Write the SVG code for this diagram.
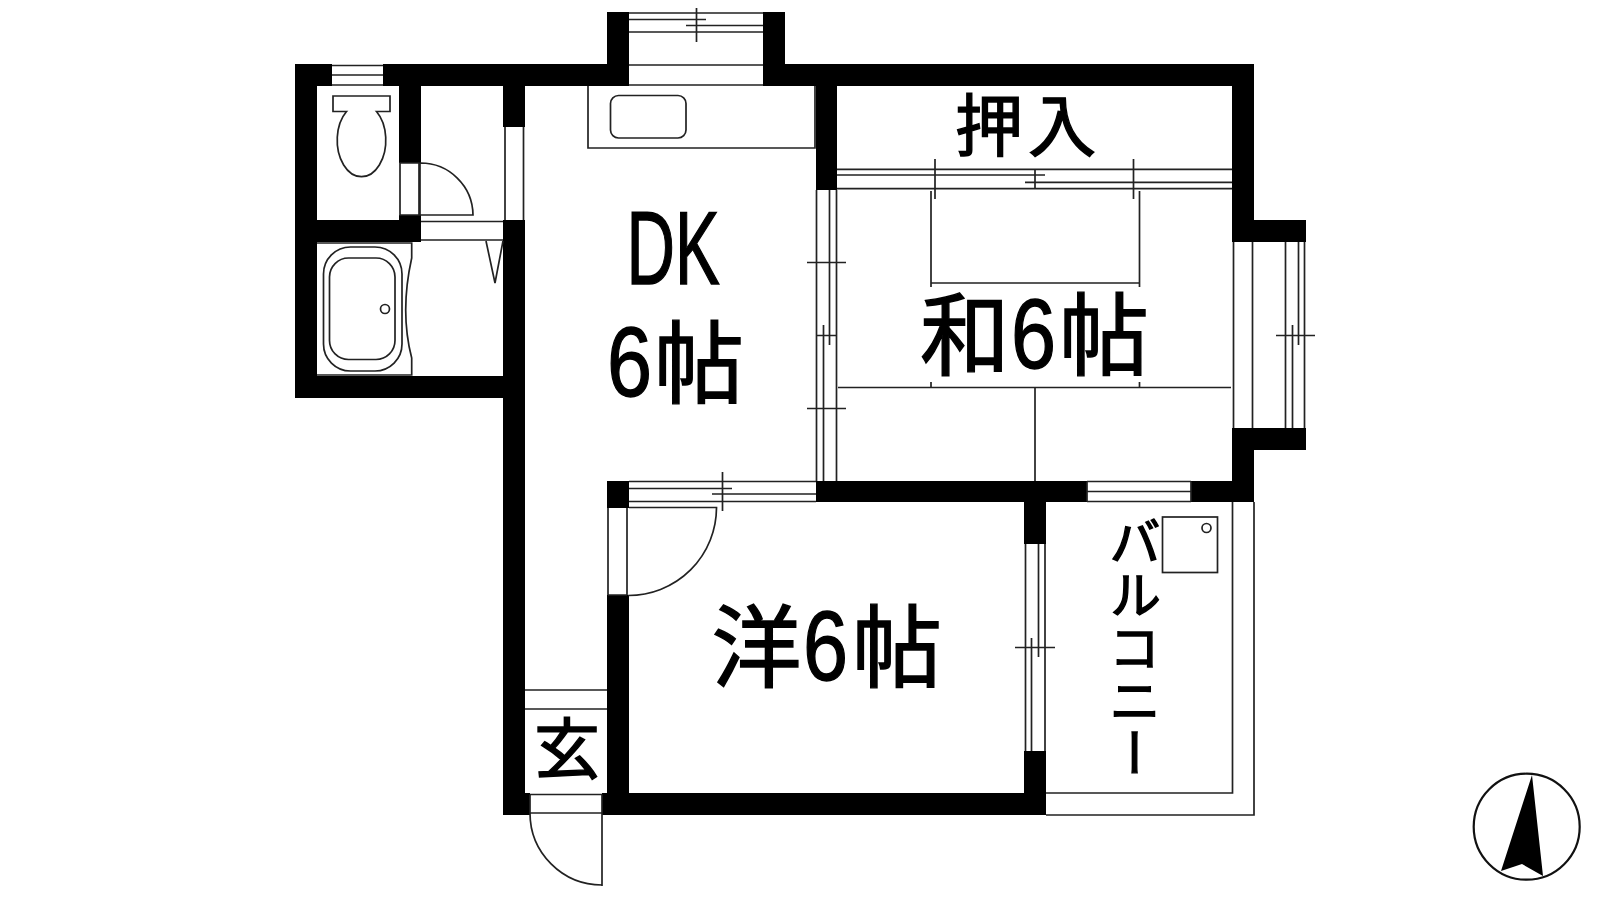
<svg xmlns="http://www.w3.org/2000/svg" width="1600" height="900" viewBox="0 0 1600 900">
<style>
.w{fill:#000}
.l{fill:none;stroke:#222;stroke-width:1.7}
.t{fill:#000;stroke:#000;stroke-width:1.4;font-family:"Noto Sans CJK JP","Liberation Sans",sans-serif}
.n{font-family:"Liberation Sans","Noto Sans CJK JP",sans-serif}
</style>
<rect width="1600" height="900" fill="#fff"/>
<g id="walls" class="w">
<rect x="295" y="64" width="37" height="22"/>
<rect x="383" y="64" width="224" height="22"/>
<rect x="607" y="12" width="22" height="74"/>
<rect x="763" y="12" width="22" height="74"/>
<rect x="785" y="64" width="469" height="22"/>
<rect x="295" y="64" width="22" height="334"/>
<rect x="399" y="86" width="22" height="77"/>
<rect x="295" y="220" width="126" height="22"/>
<rect x="399" y="215" width="22" height="7"/>
<rect x="503" y="86" width="22" height="41"/>
<rect x="503" y="220" width="22" height="595"/>
<rect x="295" y="376" width="208" height="22"/>
<rect x="816" y="86" width="21" height="104"/>
<rect x="1232" y="64" width="22" height="178"/>
<rect x="1232" y="220" width="74" height="22"/>
<rect x="1232" y="428" width="74" height="22"/>
<rect x="1232" y="428" width="22" height="74"/>
<rect x="816" y="481" width="271" height="21"/>
<rect x="1191" y="481" width="63" height="21"/>
<rect x="607" y="481" width="22" height="27"/>
<rect x="607" y="595" width="22" height="220"/>
<rect x="503" y="793" width="27" height="22"/>
<rect x="602" y="793" width="444" height="22"/>
<rect x="1024" y="502" width="22" height="42"/>
<rect x="1024" y="751" width="22" height="64"/>
</g>
<g id="windows" class="l">
<path d="M332 65.500H383M332 75H383M332 85H383"/>
<path d="M629 13H763M629 19.500H706M686 25.500H763M629 32H763M696.500 8V42M629 65H763M629 85H763"/>
<path d="M505 127V220M523.500 127V220"/>
<path d="M837 169.300H1232M837 175H1045M1025 182.300H1232M837 188.700H1232M935 159V199M1133.500 159V199M1035 170V188.700"/>
<path d="M816.500 190V481M836.500 190V481M829.500 190V345M823.500 325V481M817 335.500H836.500M807 262.500H846M807 408.500H846"/>
<path d="M1233.500 242V428M1252.500 242V428M1285.500 242V428M1304.500 242V428M1298.500 242V345M1292.500 325V428M1276 335.500H1315"/>
<path d="M1087 481.500H1191M1087 491.500H1191M1087 501.500H1191M1087 481.500V501.500M1191 481.500V501.500"/>
<path d="M629 481.500H816M629 488.500H732M712 494H816M629 501.500H816M722.500 472V511"/>
<path d="M1025.500 544V751M1045 544V751M1038.500 544V657M1031.500 638V751M1015 647.500H1055"/>
</g>
<g id="doors" class="l">
<path d="M400 163H419V215H400ZM420 163A52.500 52.500 0 0 1 473 215H420V163"/>
<path d="M421 221.500H503M421 240H503"/>
<path d="M486 241L495 283L503 241"/>
<path d="M608 508V595M627 508V595M608 595H627M629 507.500H716.500A88 88 0 0 1 628 595.500"/>
<path d="M525 690H607M525 709H607"/>
<path d="M530 794.500H602M530 813H602M530 794.500V813M602 794.500V886M530 813A72 72 0 0 0 602 885"/>
</g>
<g id="fixtures" class="l">
<path d="M333 96H390V111.500H376.500A24.300 36.500 0 1 1 346.500 111.500H333Z"/>
<path d="M317 243H411.700V258Q405.700 285 405.700 310Q405.700 335 411.700 358V375H317"/>
<rect x="323.500" y="247" width="78.500" height="124" rx="27"/>
<rect x="329.500" y="258" width="65.500" height="101.500" rx="19"/>
<circle cx="385" cy="309" r="4.500"/>
<path d="M588 86V148H815V86"/>
<rect x="610.500" y="95.500" width="75.500" height="42.500" rx="8"/>
<path d="M931 191V287M1139.500 191V287M931 283H1139.500M838 387.500H1231M931 382V387.500M1139.500 382V387.500M1035 387.500V481"/>
<path d="M1046 793H1232.500V502M1254 502V815H1046"/>
<rect x="1162.500" y="517" width="55" height="55.500"/>
<circle cx="1206.500" cy="528" r="4.500"/>
</g>
<g id="north">
<circle cx="1526.700" cy="826.700" r="53" fill="none" stroke="#111" stroke-width="2.200"/>
<path d="M1532 775L1543 876L1522 864L1501 871Z" fill="#000"/>
</g>
<g id="labels">
<text id="t-oshiire" class="t" x="955" y="151" font-size="68" letter-spacing="5">押入</text>
<text id="t-dk" class="n" transform="translate(626.500 284) scale(.645 1)" font-size="104" fill="#000" stroke="#000" stroke-width="1.500">DK</text>
<text id="t-dk6" class="t" y="396" font-size="90"><tspan class="n" x="607" textLength="45" lengthAdjust="spacingAndGlyphs" font-size="99">6</tspan><tspan x="654">帖</tspan></text>
<text id="t-wa" class="t" y="368" font-size="90"><tspan x="920">和</tspan><tspan class="n" x="1011" textLength="45" lengthAdjust="spacingAndGlyphs" font-size="99">6</tspan><tspan x="1059">帖</tspan></text>
<text id="t-yo" class="t" y="680" font-size="90"><tspan x="711.500">洋</tspan><tspan class="n" x="803" textLength="45" lengthAdjust="spacingAndGlyphs" font-size="99">6</tspan><tspan x="852">帖</tspan></text>
<text id="t-gen" class="t" x="534" y="773" font-size="66">玄</text>
<text id="t-bal" class="t" x="1135" y="515" font-size="52" letter-spacing="1" style="writing-mode:vertical-rl">バルコニー</text>
</g>
</svg>
